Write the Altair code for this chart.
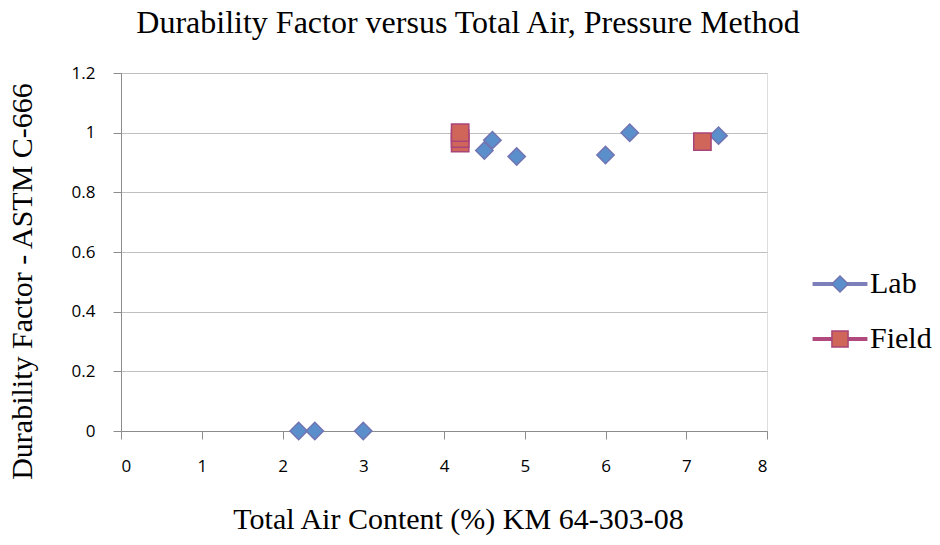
import altair as alt
import pandas as pd

lab_x = [2.2, 2.4, 3.0, 4.5, 4.6, 4.9, 6.0, 6.3, 7.4]
lab_y = [0.0, 0.0, 0.0, 0.94, 0.975, 0.92, 0.925, 1.0, 0.99]
field_x = [4.2, 4.2, 4.2, 7.2]
field_y = [0.965, 0.98, 1.0, 0.97]

series_names = ["Lab", "Field"]
fill_colors = ["#5B8FCB", "#CF6659"]
edge_colors = ["#7274B2", "#A9457A"]
line_colors = ["#7D7FBA", "#B0497D"]

df = pd.DataFrame({
    "x": lab_x + field_x,
    "y": lab_y + field_y,
    "series": ["Lab"] * len(lab_x) + ["Field"] * len(field_x),
})
df["series_line"] = df["series"]

serif = "Liberation Serif"
sans = "Open Sans"

xaxis = alt.Axis(
    values=list(range(0, 9)), grid=False, domainColor="#8C8C8C", tickColor="#8C8C8C",
    tickSize=8, labelFont=sans, labelFontSize=17, labelColor="#000000", labelPadding=19,
    title="Total Air Content (%) KM 64-303-08", titleFont=serif, titleFontSize=30,
    titleFontWeight="normal", titleColor="#000000", titleX=337, titleY=97,
    titleBaseline="alphabetic", titleAnchor="middle",
)
yaxis = alt.Axis(
    values=[0, 0.2, 0.4, 0.6, 0.8, 1.0, 1.2], format="~g", grid=True, gridColor="#BFBFBF",
    domainColor="#8C8C8C", tickColor="#8C8C8C", tickSize=8,
    labelFont=sans, labelFontSize=17, labelColor="#000000", labelPadding=18,
    title="Durability Factor - ASTM C-666", titleFont=serif, titleFontSize=30,
    titleFontWeight="normal", titleColor="#000000", titleX=-90, titleY=208,
    titleAngle=-90, titleBaseline="alphabetic", titleAnchor="middle",
)

xs = alt.X("x:Q", scale=alt.Scale(domain=[0, 8], nice=False), axis=xaxis)
ys = alt.Y("y:Q", scale=alt.Scale(domain=[0, 1.2], nice=False), axis=yaxis)

legend_common = dict(
    orient="none", legendX=704, legendY=196, title=None,
    labelFont=serif, labelFontSize=30, labelColor="#000000",
    rowPadding=25, labelOffset=15, symbolSize=260, symbolOpacity=1,
)

lines = alt.Chart(df).mark_line(opacity=0).encode(
    x=xs, y=ys,
    color=alt.Color(
        "series_line:N",
        scale=alt.Scale(domain=series_names, range=line_colors),
        legend=alt.Legend(
            symbolType="M-3.4,0H3.4", symbolStrokeWidth=4, labelOpacity=0,
            **legend_common,
        ),
    ),
    detail="series:N",
)

point_legend = alt.Legend(symbolStrokeWidth=1.5, **legend_common)

points = alt.Chart(df).mark_point(filled=True, opacity=1, strokeWidth=1.5).encode(
    x=xs, y=ys,
    shape=alt.Shape("series:N", scale=alt.Scale(domain=series_names, range=["diamond", "square"]),
                    legend=point_legend),
    fill=alt.Fill("series:N", scale=alt.Scale(domain=series_names, range=fill_colors), legend=point_legend),
    stroke=alt.Stroke("series:N", scale=alt.Scale(domain=series_names, range=edge_colors), legend=point_legend),
    size=alt.value(300),
)

chart = alt.layer(lines, points).resolve_legend(
    color="independent", shape="independent", fill="independent", stroke="independent"
).properties(
    width=646, height=358,
    autosize=alt.AutoSizeParams(type="none"),
    padding={"left": 113, "top": 65, "right": 165, "bottom": 114},
    title=alt.TitleParams(
        "Durability Factor versus Total Air, Pressure Method",
        font=serif, fontSize=32, fontWeight="normal", color="#000000",
        anchor="middle", dx=24, offset=24,
    ),
).configure_view(stroke=None).configure(background="#FFFFFF")

chart.save("out.html", embed_options={"renderer": "svg", "actions": False})
